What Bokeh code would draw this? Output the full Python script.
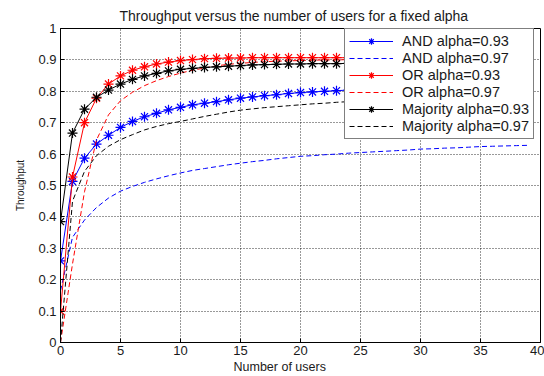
from bokeh.plotting import figure
from bokeh.models import (Legend, LegendItem, FixedTicker, Title,
                          NumeralTickFormatter, Range1d)
from bokeh.embed import file_html
from bokeh.resources import INLINE

# ---------------- data ----------------
users = list(range(0, 40))

and_093 = [0.26, 0.513, 0.587, 0.632, 0.660, 0.685, 0.704, 0.719, 0.730, 0.741,
           0.749, 0.757, 0.762, 0.767, 0.773, 0.778, 0.782, 0.786, 0.789, 0.793,
           0.796, 0.798, 0.800, 0.802, 0.804, 0.806, 0.807, 0.809, 0.810, 0.811,
           0.813, 0.814, 0.815, 0.816, 0.817, 0.818, 0.818, 0.819, 0.820, 0.820]
and_097 = [0.165, 0.335, 0.39, 0.43, 0.46, 0.482, 0.497, 0.51, 0.521, 0.531,
           0.540, 0.548, 0.554, 0.560, 0.566, 0.571, 0.576, 0.580, 0.585, 0.589,
           0.593, 0.595, 0.598, 0.600, 0.603, 0.605, 0.607, 0.609, 0.611, 0.613,
           0.616, 0.617, 0.619, 0.620, 0.622, 0.624, 0.625, 0.626, 0.627, 0.628]
or_093 = [0.10, 0.527, 0.700, 0.778, 0.823, 0.849, 0.867, 0.878, 0.887, 0.893,
          0.898, 0.901, 0.904, 0.905, 0.906, 0.906, 0.907, 0.907, 0.907, 0.907,
          0.907, 0.907, 0.907, 0.907, 0.907, 0.907, 0.907, 0.907, 0.907, 0.907,
          0.907, 0.907, 0.907, 0.907, 0.907, 0.907, 0.907, 0.907, 0.907, 0.907]
or_097 = [0.0, 0.25, 0.48, 0.645, 0.725, 0.770, 0.797, 0.818, 0.834, 0.847,
          0.858, 0.867, 0.874, 0.881, 0.886, 0.889, 0.892, 0.894, 0.896, 0.897,
          0.898, 0.899, 0.900, 0.900, 0.901, 0.901, 0.901, 0.902, 0.902, 0.902,
          0.902, 0.902, 0.903, 0.903, 0.903, 0.903, 0.903, 0.903, 0.903, 0.903]
maj_093 = [0.385, 0.667, 0.743, 0.781, 0.804, 0.823, 0.838, 0.849, 0.857, 0.865,
           0.870, 0.873, 0.876, 0.878, 0.880, 0.882, 0.884, 0.885, 0.886, 0.887,
           0.887, 0.888, 0.888, 0.888, 0.889, 0.889, 0.889, 0.889, 0.889, 0.889,
           0.889, 0.889, 0.889, 0.889, 0.889, 0.889, 0.889, 0.889, 0.889, 0.889]
maj_097 = [0.0, 0.45, 0.545, 0.595, 0.625, 0.646, 0.662, 0.677, 0.688, 0.697,
           0.704, 0.712, 0.720, 0.727, 0.734, 0.740, 0.744, 0.748, 0.751, 0.754,
           0.757, 0.760, 0.762, 0.765, 0.767, 0.769, 0.771, 0.773, 0.775, 0.777,
           0.778, 0.780, 0.781, 0.783, 0.784, 0.785, 0.786, 0.787, 0.788, 0.789]

series_labels = ["AND alpha=0.93", "AND alpha=0.97", "OR alpha=0.93",
                 "OR alpha=0.97", "Majority alpha=0.93", "Majority alpha=0.97"]
x_ticks = [0, 5, 10, 15, 20, 25, 30, 35, 40]
y_ticks = [0, 0.1, 0.2, 0.3, 0.4, 0.5, 0.6, 0.7, 0.8, 0.9, 1.0]

FONT = "Liberation Sans"
TXT = "#1a1a1a"

p = figure(width=544, height=376, output_backend="svg", toolbar_location=None,
           x_range=Range1d(0, 40), y_range=Range1d(0, 1),
           min_border_left=60, min_border_right=4, min_border_top=28,
           min_border_bottom=34)

# main title (slightly left of centre as in the reference)
p.add_layout(Title(text="Throughput versus the number of users for a fixed alpha",
                   align="left", offset=59, standoff=9, text_font=FONT,
                   text_font_size="14px", text_font_style="normal",
                   text_color=TXT), "above")

p.outline_line_color = "black"
p.outline_line_width = 1
p.background_fill_color = "white"
p.border_fill_color = "white"

for ax, tk in ((p.xaxis[0], x_ticks), (p.yaxis[0], y_ticks)):
    ax.ticker = FixedTicker(ticks=tk)
    ax.major_tick_in = 4
    ax.major_tick_out = 0
    ax.minor_tick_line_color = None
    ax.axis_line_width = 1
    ax.major_label_text_font = FONT
    ax.major_label_text_font_size = "13px"
    ax.major_label_text_color = TXT
    ax.axis_label_text_font = FONT
    ax.axis_label_text_font_style = "normal"
    ax.axis_label_text_color = TXT
    ax.formatter = NumeralTickFormatter(format="0.[0]")

p.xaxis.major_label_standoff = 3
p.yaxis.major_label_standoff = 4
p.yaxis.axis_label = "Throughput"
p.yaxis.axis_label_text_font_size = "10px"
p.yaxis.axis_label_standoff = 9

# x-axis label (placed as in the reference, a little left of centre)
p.add_layout(Title(text="Number of users", align="left", offset=173, standoff=0,
                   text_font=FONT, text_font_size="12.5px",
                   text_font_style="normal", text_color=TXT), "below")

p.xgrid.ticker = FixedTicker(ticks=x_ticks)
p.ygrid.ticker = FixedTicker(ticks=y_ticks)
for g in (p.xgrid[0], p.ygrid[0]):
    g.grid_line_color = "black"
    g.grid_line_dash = "1 2"
    g.grid_line_width = 1
    g.grid_line_alpha = 0.8

BLUE, RED, BLACK = "#0000FF", "#FF0000", "#000000"
DASH = "5 3"

items = []
specs = [(and_093, BLUE, True), (and_097, BLUE, False),
         (or_093, RED, True), (or_097, RED, False),
         (maj_093, BLACK, True), (maj_097, BLACK, False)]
for (ys, col, marked), lab in zip(specs, series_labels):
    if marked:
        r1 = p.line(users, ys, line_color=col, line_width=1)
        r2 = p.scatter(users, ys, marker="asterisk", size=10, line_color=col,
                       line_width=1.2)
        items.append(LegendItem(label=lab, renderers=[r1, r2]))
    else:
        r1 = p.line(users, ys, line_color=col, line_width=1, line_dash=DASH)
        items.append(LegendItem(label=lab, renderers=[r1]))

leg = Legend(items=items, location=(284, 203))
leg.label_text_font = FONT
leg.label_text_font_size = "14.5px"
leg.label_text_color = TXT
leg.glyph_width = 44
leg.glyph_height = 16
leg.label_height = 16
leg.label_standoff = 9
leg.spacing = 1
leg.padding = 4
leg.margin = 0
leg.border_line_color = "black"
leg.border_line_width = 1.5
leg.background_fill_alpha = 1
p.add_layout(leg, "center")

open("out.html", "w").write(file_html(p, INLINE))
